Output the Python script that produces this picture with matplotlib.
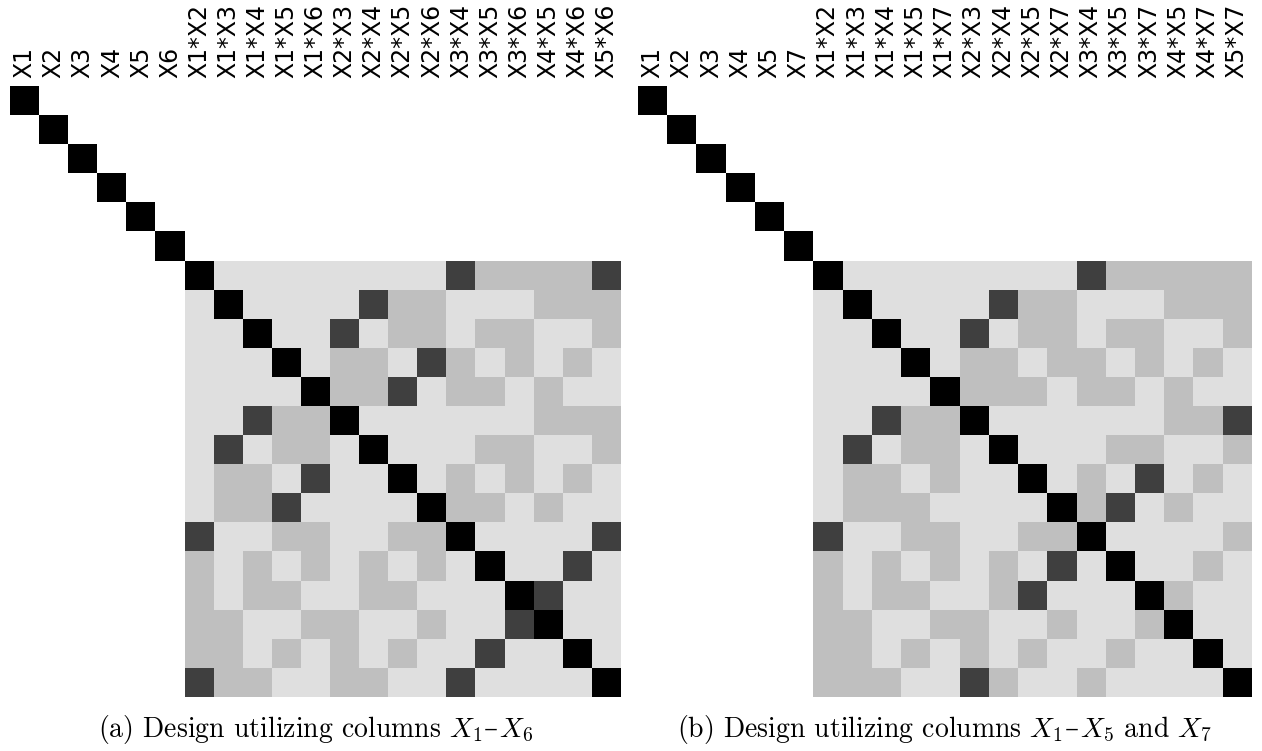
import numpy as np
import matplotlib
matplotlib.use('Agg')
import matplotlib.pyplot as plt
from itertools import combinations
from matplotlib.offsetbox import TextArea, HPacker, AnnotationBbox

plt.rcParams['mathtext.fontset'] = 'cm'

# main-effect columns of the two designs
mains_a = ['X1', 'X2', 'X3', 'X4', 'X5', 'X6']
mains_b = ['X1', 'X2', 'X3', 'X4', 'X5', 'X7']

# |correlation| code for interaction pairs: L=0.125, M=0.25, D=0.75, B=1
levels = {'L': 0.125, 'M': 0.25, 'D': 0.75, 'B': 1.0}

# rows/cols follow X1*X2, X1*X3, ..., X5*Xk
inter_a = [
    'BLLLLLLLLDMMMMD',
    'LBLLLLDMMLLLMMM',
    'LLBLLDLMMLMMLLM',
    'LLLBLMMLDMLMLML',
    'LLLLBMMDLMMLMLL',
    'LLDMMBLLLLLLMMM',
    'LDLMMLBLLLMMLLM',
    'LMMLDLLBLMLMLML',
    'LMMDLLLLBMMLMLL',
    'DLLMMLLMMBLLLLD',
    'MLMLMLMLMLBLLDL',
    'MLMMLLMMLLLBDLL',
    'MMLLMMLLMLLDBLL',
    'MMLMLMLMLLDLLBL',
    'DMMLLMMLLDLLLLB',
]

inter_b = [
    'BLLLLLLLLDMMMMM',
    'LBLLLLDMMLLLMMM',
    'LLBLLDLMMLMMLLM',
    'LLLBLMMLMMLMLML',
    'LLLLBMMMLMMLMLL',
    'LLDMMBLLLLLLMMD',
    'LDLMMLBLLLMMLLM',
    'LMMLMLLBLMLDLML',
    'LMMMLLLLBMDLMLL',
    'DLLMMLLMMBLLLLM',
    'MLMLMLMLDLBLLML',
    'MLMMLLMDLLLBMLL',
    'MMLLMMLLMLLMBLL',
    'MMLMLMLMLLMLLBL',
    'MMMLLDMLLMLLLLB',
]

# caption text either side of the en dash
captions = [(r'(a) Design utilizing columns $X_1$', r'$X_6$'),
            (r'(b) Design utilizing columns $X_1$', r'$X_5$ and $X_7$')]


def build(mains, rows):
    names = mains + [a + '*' + b for a, b in combinations(mains, 2)]
    k = len(mains)
    corr = np.zeros((len(names), len(names)))
    corr[np.arange(k), np.arange(k)] = 1.0
    corr[k:, k:] = [[levels[c] for c in r] for r in rows]
    return names, corr


def add_caption(fig, x, y, left, right):
    # cmr10 has no usable en dash, so the dash comes from a serif fallback
    cm = dict(fontsize=20, family='cmr10')
    dash = dict(fontsize=20, family='DejaVu Serif')
    pack = HPacker(children=[TextArea(left, textprops=cm),
                             TextArea('\u2013', textprops=dash),
                             TextArea(right, textprops=cm)],
                   align='baseline', pad=0, sep=1)
    ab = AnnotationBbox(pack, (x, y), xycoords='figure fraction',
                        box_alignment=(0.5, 0.0), frameon=False, pad=0)
    fig.add_artist(ab)


fig = plt.figure(figsize=(12.62, 7.51), dpi=100)
W, H = 1262.0, 751.0
panels = [
    (mains_a, inter_a, captions[0], [10 / W, 54 / H, 611 / W, 611 / H]),
    (mains_b, inter_b, captions[1], [638 / W, 54 / H, 613 / W, 611 / H]),
]

for mains, rows, cap, pos in panels:
    names, corr = build(mains, rows)
    ax = fig.add_axes(pos)
    ax.imshow(corr, cmap='gray_r', vmin=0, vmax=1,
              interpolation='nearest', aspect='auto')
    ax.xaxis.tick_top()
    ax.set_xticks(range(len(names)))
    ax.set_xticklabels(names, rotation=90, fontsize=17)
    ax.set_yticks([])
    ax.tick_params(length=0, pad=6)
    for s in ax.spines.values():
        s.set_visible(False)
    add_caption(fig, pos[0] + pos[2] / 2, 5 / H, cap[0], cap[1])

fig.savefig('out.png', dpi=100)
